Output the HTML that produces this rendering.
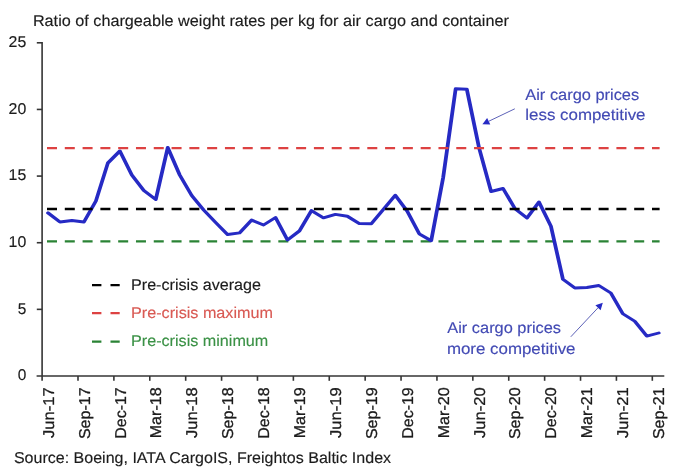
<!DOCTYPE html>
<html><head><meta charset="utf-8"><title>chart</title>
<style>
html,body{margin:0;padding:0;background:#fff;}
body{width:679px;height:468px;overflow:hidden;font-family:"Liberation Sans",sans-serif;}
svg{display:block;will-change:transform;opacity:0.999;}
text{text-rendering:geometricPrecision;font-family:"Liberation Sans",sans-serif;font-size:15.7px;fill:#1c1c1c;stroke:#1c1c1c;stroke-width:0.15px;}
</style></head><body>
<svg width="679" height="468" viewBox="0 0 679 468">
<rect x="0" y="0" width="679" height="468" fill="#ffffff"/>

<text x="32.9" y="26.3" textLength="476" lengthAdjust="spacingAndGlyphs">Ratio of chargeable weight rates per kg for air cargo and container</text>
<g stroke="#343434" stroke-width="1.6" fill="none">
<line x1="42.1" y1="42" x2="42.1" y2="380.8"/>
<line x1="36.6" y1="376.05" x2="664.3" y2="376.05"/>
<line x1="36.8" y1="309.36" x2="42.1" y2="309.36"/>
<line x1="36.8" y1="242.72" x2="42.1" y2="242.72"/>
<line x1="36.8" y1="176.08" x2="42.1" y2="176.08"/>
<line x1="36.8" y1="109.44" x2="42.1" y2="109.44"/>
<line x1="36.8" y1="42.80" x2="42.1" y2="42.80"/>
<line x1="78.00" y1="376" x2="78.00" y2="380.8"/>
<line x1="113.89" y1="376" x2="113.89" y2="380.8"/>
<line x1="149.78" y1="376" x2="149.78" y2="380.8"/>
<line x1="185.68" y1="376" x2="185.68" y2="380.8"/>
<line x1="221.58" y1="376" x2="221.58" y2="380.8"/>
<line x1="257.47" y1="376" x2="257.47" y2="380.8"/>
<line x1="293.37" y1="376" x2="293.37" y2="380.8"/>
<line x1="329.26" y1="376" x2="329.26" y2="380.8"/>
<line x1="365.16" y1="376" x2="365.16" y2="380.8"/>
<line x1="401.05" y1="376" x2="401.05" y2="380.8"/>
<line x1="436.95" y1="376" x2="436.95" y2="380.8"/>
<line x1="472.84" y1="376" x2="472.84" y2="380.8"/>
<line x1="508.74" y1="376" x2="508.74" y2="380.8"/>
<line x1="544.63" y1="376" x2="544.63" y2="380.8"/>
<line x1="580.53" y1="376" x2="580.53" y2="380.8"/>
<line x1="616.42" y1="376" x2="616.42" y2="380.8"/>
<line x1="652.32" y1="376" x2="652.32" y2="380.8"/>
</g>
<text x="17.70" y="380.40" style="font-size:15.7px" textLength="8.6" lengthAdjust="spacingAndGlyphs">0</text>
<text x="17.70" y="313.76" style="font-size:15.7px" textLength="8.6" lengthAdjust="spacingAndGlyphs">5</text>
<text x="8.60" y="247.12" style="font-size:15.7px" textLength="17.7" lengthAdjust="spacingAndGlyphs">10</text>
<text x="8.60" y="180.48" style="font-size:15.7px" textLength="17.7" lengthAdjust="spacingAndGlyphs">15</text>
<text x="8.60" y="113.84" style="font-size:15.7px" textLength="17.7" lengthAdjust="spacingAndGlyphs">20</text>
<text x="8.60" y="47.20" style="font-size:15.7px" textLength="17.7" lengthAdjust="spacingAndGlyphs">25</text>
<text transform="translate(53.78,437.90) rotate(-90)" x="0" y="0" style="font-size:15.7px;stroke-width:0.3px" textLength="50.6" lengthAdjust="spacingAndGlyphs">Jun-17</text>
<text transform="translate(89.67,439.10) rotate(-90)" x="0" y="0" style="font-size:15.7px;stroke-width:0.3px" textLength="51.8" lengthAdjust="spacingAndGlyphs">Sep-17</text>
<text transform="translate(125.57,438.70) rotate(-90)" x="0" y="0" style="font-size:15.7px;stroke-width:0.3px" textLength="51.4" lengthAdjust="spacingAndGlyphs">Dec-17</text>
<text transform="translate(161.46,438.30) rotate(-90)" x="0" y="0" style="font-size:15.7px;stroke-width:0.3px" textLength="51.0" lengthAdjust="spacingAndGlyphs">Mar-18</text>
<text transform="translate(197.36,437.90) rotate(-90)" x="0" y="0" style="font-size:15.7px;stroke-width:0.3px" textLength="50.6" lengthAdjust="spacingAndGlyphs">Jun-18</text>
<text transform="translate(233.25,439.10) rotate(-90)" x="0" y="0" style="font-size:15.7px;stroke-width:0.3px" textLength="51.8" lengthAdjust="spacingAndGlyphs">Sep-18</text>
<text transform="translate(269.15,438.70) rotate(-90)" x="0" y="0" style="font-size:15.7px;stroke-width:0.3px" textLength="51.4" lengthAdjust="spacingAndGlyphs">Dec-18</text>
<text transform="translate(305.05,438.30) rotate(-90)" x="0" y="0" style="font-size:15.7px;stroke-width:0.3px" textLength="51.0" lengthAdjust="spacingAndGlyphs">Mar-19</text>
<text transform="translate(340.94,437.90) rotate(-90)" x="0" y="0" style="font-size:15.7px;stroke-width:0.3px" textLength="50.6" lengthAdjust="spacingAndGlyphs">Jun-19</text>
<text transform="translate(376.83,439.10) rotate(-90)" x="0" y="0" style="font-size:15.7px;stroke-width:0.3px" textLength="51.8" lengthAdjust="spacingAndGlyphs">Sep-19</text>
<text transform="translate(412.73,438.70) rotate(-90)" x="0" y="0" style="font-size:15.7px;stroke-width:0.3px" textLength="51.4" lengthAdjust="spacingAndGlyphs">Dec-19</text>
<text transform="translate(448.62,438.30) rotate(-90)" x="0" y="0" style="font-size:15.7px;stroke-width:0.3px" textLength="51.0" lengthAdjust="spacingAndGlyphs">Mar-20</text>
<text transform="translate(484.52,437.90) rotate(-90)" x="0" y="0" style="font-size:15.7px;stroke-width:0.3px" textLength="50.6" lengthAdjust="spacingAndGlyphs">Jun-20</text>
<text transform="translate(520.42,439.10) rotate(-90)" x="0" y="0" style="font-size:15.7px;stroke-width:0.3px" textLength="51.8" lengthAdjust="spacingAndGlyphs">Sep-20</text>
<text transform="translate(556.31,438.70) rotate(-90)" x="0" y="0" style="font-size:15.7px;stroke-width:0.3px" textLength="51.4" lengthAdjust="spacingAndGlyphs">Dec-20</text>
<text transform="translate(592.21,438.30) rotate(-90)" x="0" y="0" style="font-size:15.7px;stroke-width:0.3px" textLength="51.0" lengthAdjust="spacingAndGlyphs">Mar-21</text>
<text transform="translate(628.10,437.90) rotate(-90)" x="0" y="0" style="font-size:15.7px;stroke-width:0.3px" textLength="50.6" lengthAdjust="spacingAndGlyphs">Jun-21</text>
<text transform="translate(664.00,439.10) rotate(-90)" x="0" y="0" style="font-size:15.7px;stroke-width:0.3px" textLength="51.8" lengthAdjust="spacingAndGlyphs">Sep-21</text>
<path d="M47.0 241.3 H659.6" stroke="#2a8335" stroke-width="2.3" stroke-dasharray="10 7.794" fill="none"/>
<g transform="scale(1.3,1)"><polyline points="36.923,212.90 46.135,222.00 55.346,220.50 64.558,222.00 73.769,201.00 82.981,163.00 92.192,151.00 101.404,175.00 110.615,190.50 119.827,199.50 129.038,147.50 138.250,175.00 147.462,195.50 156.673,210.00 165.885,222.50 175.096,234.55 184.308,232.90 193.519,220.10 202.731,225.00 211.942,217.50 221.154,240.00 230.365,230.90 239.577,210.60 248.788,217.80 258.000,214.40 267.212,216.25 276.423,223.60 285.635,223.70 294.846,209.50 304.058,195.30 313.269,211.25 322.481,233.80 331.692,240.75 340.904,177.50 350.500,88.80 359.096,89.20 368.538,148.00 377.750,191.50 386.962,188.50 396.173,208.75 405.385,218.00 414.596,202.00 423.808,226.25 433.019,279.25 442.231,288.00 451.442,287.50 460.654,285.50 469.865,293.00 479.077,313.75 488.288,321.25 497.500,336.10 506.712,333.00" fill="none" stroke="#262ac4" stroke-width="2.9" stroke-linejoin="round" stroke-linecap="round"/></g>
<path d="M47.0 209.0 H659.6" stroke="#000000" stroke-width="2.3" stroke-dasharray="10 7.794" fill="none"/>
<path d="M47.0 148.05 H659.6" stroke="#dd4242" stroke-width="2.3" stroke-dasharray="10 7.794" fill="none"/>
<path d="M92 285.1 h9.4 M110.5 285.1 h9.2" stroke="#000000" stroke-width="2.3" fill="none"/>
<text x="131" y="290.0" style="fill:#1c1c1c;stroke:#1c1c1c" textLength="130" lengthAdjust="spacingAndGlyphs">Pre-crisis average</text>
<path d="M92 313.1 h9.4 M110.5 313.1 h9.2" stroke="#dd4242" stroke-width="2.3" fill="none"/>
<text x="131" y="318.0" style="fill:#d95a54;stroke:#d95a54" textLength="142" lengthAdjust="spacingAndGlyphs">Pre-crisis maximum</text>
<path d="M92 341.6 h9.4 M110.5 341.6 h9.2" stroke="#2a8335" stroke-width="2.3" fill="none"/>
<text x="131" y="346.3" style="fill:#3a9145;stroke:#3a9145" textLength="137.3" lengthAdjust="spacingAndGlyphs">Pre-crisis minimum</text>
<g style="fill:#424ab4">
<text style="fill:#424ab4;stroke:#424ab4" x="525.3" y="100" textLength="113.9" lengthAdjust="spacingAndGlyphs">Air cargo prices</text>
<text style="fill:#424ab4;stroke:#424ab4" x="525.3" y="120" textLength="120.2" lengthAdjust="spacingAndGlyphs">less competitive</text>
<text style="fill:#424ab4;stroke:#424ab4" x="447.3" y="333.0" textLength="113.7" lengthAdjust="spacingAndGlyphs">Air cargo prices</text>
<text style="fill:#424ab4;stroke:#424ab4" x="446.9" y="353.7" textLength="128.6" lengthAdjust="spacingAndGlyphs">more competitive</text>
</g>
<line x1="514.80" y1="108.80" x2="488.71" y2="121.28" stroke="#5d62b8" stroke-width="1.0"/><polygon points="482.40,124.30 487.16,118.03 490.27,124.53" fill="#262ac4"/>
<line x1="570.80" y1="336.80" x2="598.01" y2="307.80" stroke="#5d62b8" stroke-width="1.0"/><polygon points="602.80,302.70 600.64,310.27 595.38,305.34" fill="#262ac4"/>
<text x="13.9" y="462.9" textLength="377.2" lengthAdjust="spacingAndGlyphs">Source: Boeing, IATA CargoIS, Freightos Baltic Index</text>
</svg></body></html>
